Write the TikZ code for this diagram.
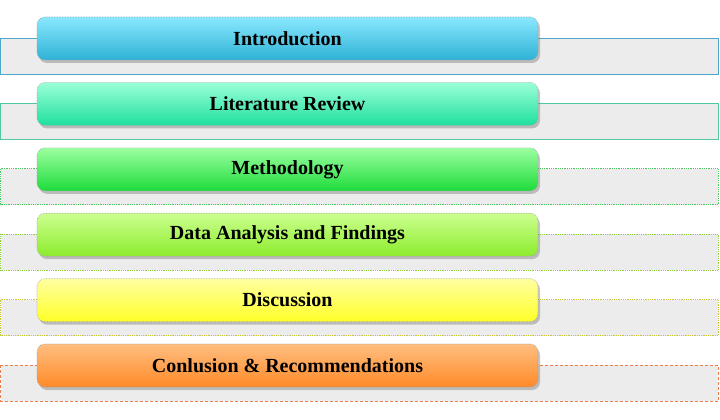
\documentclass[tikz,border=0pt]{standalone}
\usepackage{fontspec}
\setmainfont{Liberation Serif}
\usepackage{tikz}
\usetikzlibrary{shadows}
\definecolor{introtop}{HTML}{8AE8FF}
\definecolor{introbot}{HTML}{2EB2D6}
\definecolor{introline}{HTML}{4BA8C8}
\definecolor{littop}{HTML}{9CFFD8}
\definecolor{litbot}{HTML}{1EE09E}
\definecolor{litline}{HTML}{50C8A0}
\definecolor{methtop}{HTML}{9CFFA0}
\definecolor{methbot}{HTML}{1EDC3C}
\definecolor{methline}{HTML}{4CC860}
\definecolor{datatop}{HTML}{CCFF90}
\definecolor{databot}{HTML}{8CEC2C}
\definecolor{dataline}{HTML}{90D040}
\definecolor{disctop}{HTML}{FFFFA0}
\definecolor{discbot}{HTML}{FFFF28}
\definecolor{discline}{HTML}{C8C840}
\definecolor{conctop}{HTML}{FFBE80}
\definecolor{concbot}{HTML}{FF8A28}
\definecolor{concline}{HTML}{E88050}
\tikzset{stagebar/.style={rounded corners=8pt, draw=gray!75, densely dotted, line width=0.6pt,
  minimum width=501pt, minimum height=43pt, inner sep=0pt,
  font=\fontsize{20}{22}\selectfont\bfseries,
  drop shadow={shadow xshift=2pt, shadow yshift=-3pt, opacity=0.45, fill=gray}},
%band behind each bar
stageband/.style={fill=gray!15, line width=0.8pt}}

\begin{document}
\begin{tikzpicture}[x=1pt,y=-1pt]
\useasboundingbox (0,0) rectangle (720,420);

% bands and bars
\foreach \i/\name/\col/\lstyle/\txt in {0/intro/intro/solid/Introduction,
    1/lit/lit/solid/Literature Review,
    2/meth/meth/densely dotted/Methodology,
    3/data/data/densely dotted/Data Analysis and Findings,
    4/disc/disc/densely dotted/Discussion,
    5/conc/conc/densely dashed/Conlusion \& Recommendations}
{
  \pgfmathsetmacro{\t}{17+65.4*\i}
  \draw[stageband, draw=\col line, \lstyle] (0.5,\t+21) rectangle (718,\t+57);
  \node[stagebar, top color=\col top, bottom color=\col bot] (\name) at (287.5,\t+21.5) {\txt};
}

\end{tikzpicture}
\end{document}
